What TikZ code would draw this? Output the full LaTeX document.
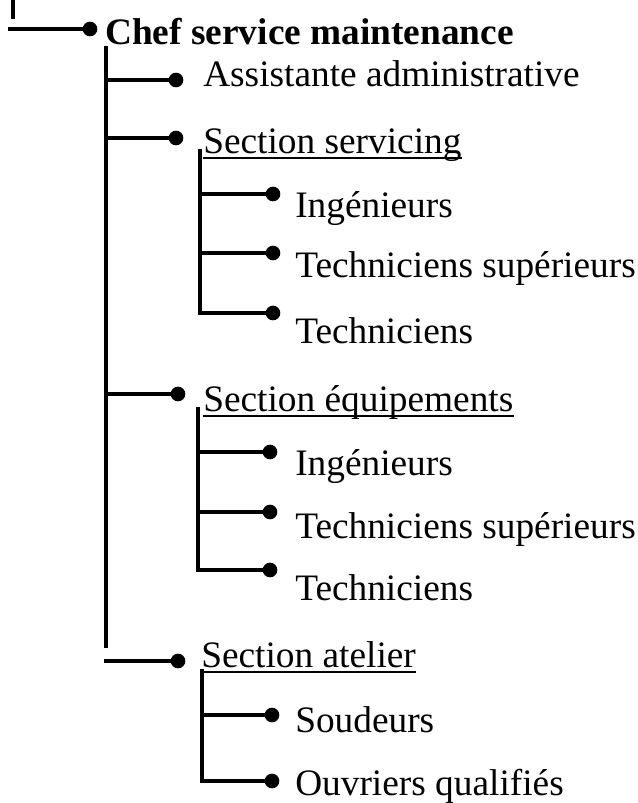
\documentclass[tikz,border=0pt]{standalone}
\usepackage{fontspec}
\setmainfont{Liberation Serif}
\begin{document}
\begin{tikzpicture}[x=0.75pt,y=-0.75pt,
  conn/.style={line width=2.7pt,line cap=rect},
  dot/.style={circle,fill=black,inner sep=0pt,minimum size=11pt},
  lbl/.style={anchor=base west,inner sep=0pt,font=\fontsize{28}{33}\selectfont},
  ul/.style={line width=1.8pt}]
\useasboundingbox (0,0) rectangle (638,803);
% top stub and chief
\coordinate (s0) at (13,0);
\coordinate (s1) at (13,17);
\draw[conn] (s0) -- (s1);
\coordinate (c0) at (10,29);
\node[dot] (cd) at (90,29) {};
\draw[conn] (c0) -- (cd.center);
\node[lbl,font=\fontsize{28}{33}\selectfont\bfseries] (chef) at (105,44) {Chef service maintenance};
% main vertical
\coordinate (m0) at (106,48);
\coordinate (m1) at (106,646);
\draw[conn] (m0) -- (m1);
% assistante
\coordinate (ba) at (106,80);
\node[dot] (da) at (176,80) {};
\draw[conn] (ba) -- (da.center);
\node[lbl] (assist) at (203,86) {Assistante administrative};
% section servicing
\coordinate (bs) at (106,138);
\node[dot] (ds) at (176,138) {};
\draw[conn] (bs) -- (ds.center);
\node[lbl] (serv) at (203,153) {Section servicing};
\draw[ul] ([yshift=-3.9pt]serv.base west) -- ([yshift=-3.9pt]serv.base east);
\coordinate (v10) at (200,151);
\coordinate (v11) at (200,313);
\draw[conn] (v10) -- (v11);
\coordinate (b11) at (200,194);
\coordinate (b12) at (200,253);
\coordinate (b13) at (200,313);
\node[dot] (d11) at (273,194) {};
\node[dot] (d12) at (273,253) {};
\node[dot] (d13) at (273,313) {};
\draw[conn] (b11) -- (d11.center);
\draw[conn] (b12) -- (d12.center);
\draw[conn] (b13) -- (d13.center);
\node[lbl] (t11) at (295,217) {Ingénieurs};
\node[lbl] (t12) at (295,277) {Techniciens supérieurs};
\node[lbl] (t13) at (295,343) {Techniciens};
% section equipements
\coordinate (be) at (106,394);
\node[dot] (de) at (178,394) {};
\draw[conn] (be) -- (de.center);
\node[lbl] (equip) at (203,411) {Section équipements};
\draw[ul] ([yshift=-3.9pt]equip.base west) -- ([yshift=-3.9pt]equip.base east);
\coordinate (v20) at (198,409);
\coordinate (v21) at (198,570);
\draw[conn] (v20) -- (v21);
\coordinate (b21) at (198,452);
\coordinate (b22) at (198,512);
\coordinate (b23) at (198,570);
\node[dot] (d21) at (270,452) {};
\node[dot] (d22) at (270,512) {};
\node[dot] (d23) at (270,570) {};
\draw[conn] (b21) -- (d21.center);
\draw[conn] (b22) -- (d22.center);
\draw[conn] (b23) -- (d23.center);
\node[lbl] (t21) at (295,475) {Ingénieurs};
\node[lbl] (t22) at (295,538) {Techniciens supérieurs};
\node[lbl] (t23) at (295,600) {Techniciens};
% section atelier
\coordinate (bt) at (106,661);
\node[dot] (dt) at (178,661) {};
\draw[conn] (bt) -- (dt.center);
\node[lbl] (atel) at (201,667) {Section atelier};
\draw[ul] ([yshift=-3.9pt]atel.base west) -- ([yshift=-3.9pt]atel.base east);
\coordinate (v30) at (202,671);
\coordinate (v31) at (202,781);
\draw[conn] (v30) -- (v31);
\coordinate (b31) at (202,715);
\coordinate (b32) at (202,781);
\node[dot] (d31) at (272,715) {};
\node[dot] (d32) at (272,781) {};
\draw[conn] (b31) -- (d31.center);
\draw[conn] (b32) -- (d32.center);
\node[lbl] (t31) at (295,732) {Soudeurs};
\node[lbl] (t32) at (295,795) {Ouvriers qualifiés};
\end{tikzpicture}
\end{document}
